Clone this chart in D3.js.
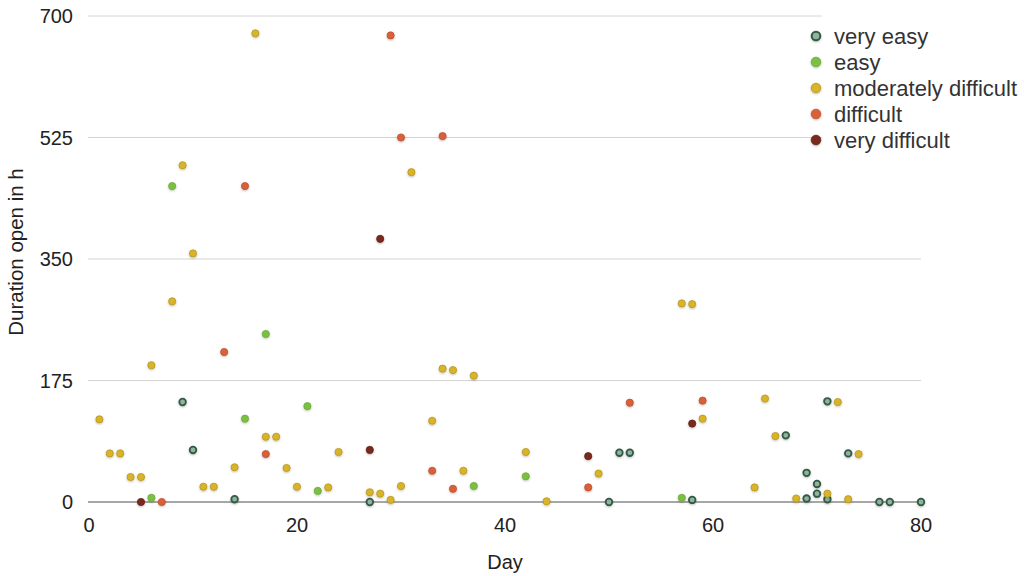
<!DOCTYPE html>
<html>
<head>
<meta charset="utf-8">
<script src="https://cdn.jsdelivr.net/npm/d3@7"></script>
<style>
  body { margin: 0; background: #fff; }
  svg { font-family: "Liberation Sans", Arial, sans-serif; }
</style>
</head>
<body>
<svg id="chart" width="1024" height="576"></svg>
<script>
// [day, hours] per difficulty level
const veryEasy = [[9,144],[10,75],[14,4],[27,0],[50,0],[51,71],[52,71],[58,3],[67,96],[69,42],[69,5],[70,26],[70,12],[71,145],[71,4],[73,70],[76,0],[77,0],[80,0]];
const easy = [[6,6],[8,455],[15,120],[17,242],[21,138],[22,16],[37,23],[42,37],[57,6]];
const moderate = [[1,119],[2,70],[3,70],[4,36],[5,36],[6,197],[8,289],[9,485],[10,358],[11,22],[12,22],[14,50],[16,675],[17,94],[18,94],[19,49],[20,22],[23,21],[24,72],[27,14],[28,12],[29,3],[30,23],[31,475],[33,117],[34,192],[35,190],[36,45],[37,182],[42,72],[44,1],[49,41],[57,286],[58,285],[59,120],[64,21],[65,149],[66,95],[68,5],[71,12],[72,144],[73,4],[74,69]];
const difficult = [[7,0],[13,216],[15,455],[17,69],[29,672],[30,525],[33,45],[34,527],[35,19],[48,21],[52,143],[59,146]];
const veryDifficult = [[5,0],[27,75],[28,379],[48,66],[58,113]];

const seriesNames = ["very easy", "easy", "moderately difficult", "difficult", "very difficult"];
const seriesData = [veryEasy, easy, moderate, difficult, veryDifficult];
const yTicks = [0, 175, 350, 525, 700];
const xTicks = [0, 20, 40, 60, 80];

const fills = ["#8fb49c", "#7cc043", "#d8b42c", "#d8603a", "#7a2b1e"];
const strokes = ["#36584a", "#6aa838", "#b8951c", "#c04f2e", "#5e1f15"];

const svg = d3.select("#chart");
const x = d3.scaleLinear().domain([0, 80]).range([89, 921]);
const y = d3.scaleLinear().domain([0, 700]).range([502, 16]);

const defs = svg.append("defs");
defs.append("filter").attr("id", "shadow")
  .attr("x", "-50%").attr("y", "-50%").attr("width", "200%").attr("height", "200%")
  .append("feDropShadow")
  .attr("dx", 0).attr("dy", 1).attr("stdDeviation", 1.2)
  .attr("flood-color", "#000").attr("flood-opacity", 0.25);

// grid lines
svg.append("g")
  .selectAll("line")
  .data(yTicks.filter((d) => d > 0))
  .enter()
  .append("line")
  .attr("x1", 88).attr("x2", 921)
  .attr("y1", (d) => y(d)).attr("y2", (d) => y(d))
  .attr("stroke", "#d4d4d4").attr("stroke-width", 1);

svg.append("line")
  .attr("x1", 88).attr("x2", 921)
  .attr("y1", y(0)).attr("y2", y(0))
  .attr("stroke", "#8a8a8a").attr("stroke-width", 1.5);

// tick labels
svg.append("g")
  .selectAll("text")
  .data(yTicks)
  .enter()
  .append("text")
  .attr("x", 73).attr("y", (d) => y(d))
  .attr("dy", "0.35em")
  .attr("text-anchor", "end")
  .attr("font-size", 20).attr("fill", "#222")
  .text((d) => d);

svg.append("g")
  .selectAll("text")
  .data(xTicks)
  .enter()
  .append("text")
  .attr("x", (d) => x(d)).attr("y", 532)
  .attr("text-anchor", "middle")
  .attr("font-size", 20).attr("fill", "#222")
  .text((d) => d);

svg.append("text")
  .attr("x", 505).attr("y", 569)
  .attr("text-anchor", "middle")
  .attr("font-size", 20).attr("fill", "#222")
  .text("Day");

svg.append("text")
  .attr("transform", "translate(23,252) rotate(-90)")
  .attr("text-anchor", "middle")
  .attr("font-size", 20.5).attr("fill", "#222")
  .text("Duration open in h");

// points
seriesData.forEach((pts, i) => {
  const g = svg.append("g").attr("filter", "url(#shadow)");
  g.selectAll("circle")
    .data(pts)
    .enter()
    .append("circle")
    .attr("cx", (d) => x(d[0]))
    .attr("cy", (d) => y(d[1]))
    .attr("r", i === 0 ? 3.3 : 3.6)
    .attr("fill", fills[i])
    .attr("stroke", strokes[i])
    .attr("stroke-width", i === 0 ? 1.8 : 0.8);
});

// legend
const legend = svg.append("g");
legend.append("rect")
  .attr("x", 822).attr("y", 8).attr("width", 202).attr("height", 146)
  .attr("fill", "#fff");

const item = legend.selectAll(".item")
  .data(seriesNames)
  .enter()
  .append("g")
  .attr("class", "item")
  .attr("transform", (d, i) => `translate(0,${36 + i * 26})`);

item.append("circle")
  .attr("cx", 816).attr("cy", 0)
  .attr("r", (d, i) => (i === 0 ? 4.3 : 4.8))
  .attr("fill", (d, i) => fills[i])
  .attr("stroke", (d, i) => strokes[i])
  .attr("stroke-width", (d, i) => (i === 0 ? 2 : 0.8))
  .attr("filter", "url(#shadow)");

item.append("text")
  .attr("x", 834).attr("y", 0)
  .attr("dy", "0.35em")
  .attr("font-size", 22).attr("fill", "#333")
  .text((d) => d);
</script>
</body>
</html>
